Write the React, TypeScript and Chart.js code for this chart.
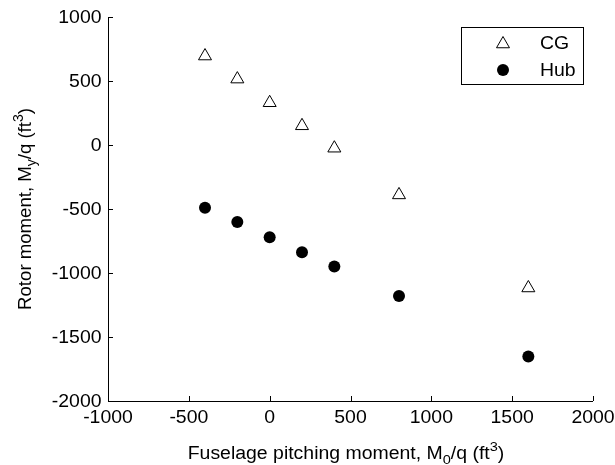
import React, { useEffect, useRef } from "react";
import { Chart, registerables } from "chart.js";

Chart.register(...registerables);

const xValues = [-400, -200, 0, 200, 400, 800, 1600];
const cgValues = [695, 515, 330, 150, -25, -390, -1117];
const hubValues = [-490, -602, -720, -838, -950, -1180, -1652];
const seriesNames = ["CG", "Hub"];
const xTicks = [-1000, -500, 0, 500, 1000, 1500, 2000];
const yTicks = [1000, 500, 0, -500, -1000, -1500, -2000];

const FONT = "'Liberation Sans', Arial, sans-serif";
const SX = 1.08;
const FS = 18;

function stretchedText(ctx: any, text: string, x: number, y: number, align: string, size = FS) {
  ctx.save();
  ctx.font = `${size}px ${FONT}`;
  ctx.textAlign = align;
  ctx.textBaseline = "middle";
  ctx.translate(x, y);
  ctx.scale(SX, 1);
  ctx.fillText(text, 0, 0);
  ctx.restore();
}

const innerTicks = {
  id: "innerTicks",
  afterDraw(chart: any) {
    const ctx = chart.ctx;
    const { left, right, top, bottom } = chart.chartArea;
    const xs = chart.scales.x;
    const ys = chart.scales.y;
    ctx.save();
    ctx.strokeStyle = "#000";
    ctx.lineWidth = 1;
    ctx.beginPath();
    ctx.moveTo(left + 0.5, top);
    ctx.lineTo(left + 0.5, bottom + 0.5);
    ctx.lineTo(right, bottom + 0.5);
    for (const v of xTicks) {
      const px = Math.round(xs.getPixelForValue(v)) + 0.5;
      ctx.moveTo(px, bottom);
      ctx.lineTo(px, bottom - 5);
    }
    for (const v of yTicks) {
      const py = Math.round(ys.getPixelForValue(v)) + 0.5;
      ctx.moveTo(left, py);
      ctx.lineTo(left + 5, py);
    }
    ctx.stroke();

    ctx.fillStyle = "#000";
    for (const v of xTicks) {
      stretchedText(ctx, String(v), xs.getPixelForValue(v), bottom + 17.5, "center");
    }
    for (const v of yTicks) {
      stretchedText(ctx, String(v), left - 6.5, ys.getPixelForValue(v) + 1, "right");
    }

    // legend box
    const bx = 461.5, by = 27.5, bw = 122, bh = 57;
    ctx.fillStyle = "#fff";
    ctx.fillRect(bx, by, bw, bh);
    ctx.strokeRect(bx, by, bw, bh);
    const mx = 503;
    const rows = [43, 70];
    const r = 7.5;
    ctx.beginPath();
    let rad = 0;
    const ty = rows[0] + 1;
    ctx.moveTo(mx + Math.sin(rad) * r, ty - Math.cos(rad) * r);
    rad += (2 * Math.PI) / 3;
    ctx.lineTo(mx + Math.sin(rad) * r, ty - Math.cos(rad) * r);
    rad += (2 * Math.PI) / 3;
    ctx.lineTo(mx + Math.sin(rad) * r, ty - Math.cos(rad) * r);
    ctx.closePath();
    ctx.fillStyle = "#fff";
    ctx.fill();
    ctx.stroke();
    ctx.beginPath();
    ctx.arc(mx, rows[1], 6, 0, Math.PI * 2);
    ctx.fillStyle = "#000";
    ctx.fill();
    stretchedText(ctx, seriesNames[0], 540, rows[0] + 1, "left");
    stretchedText(ctx, seriesNames[1], 540, rows[1] + 1, "left");
    ctx.restore();
  },
};

const titles = {
  id: "titles",
  afterDraw(chart: any) {
    const ctx = chart.ctx;
    ctx.save();
    ctx.fillStyle = "#000";
    ctx.textBaseline = "alphabetic";
    ctx.textAlign = "left";
    const measure = (arr: any[]) =>
      arr.reduce((w, p) => {
        ctx.font = `${p.s}px ${FONT}`;
        return w + ctx.measureText(p.t).width;
      }, 0);
    // x title
    const parts = [
      { t: "Fuselage pitching moment, M", dy: 0, s: 18 },
      { t: "0", dy: 5, s: 13.5 },
      { t: "/q (ft", dy: 0, s: 18 },
      { t: "3", dy: -8, s: 13.5 },
      { t: ")", dy: 0, s: 18 },
    ];
    let w = measure(parts);
    ctx.save();
    ctx.translate(346, 459);
    ctx.scale(SX, 1);
    let x = -w / 2;
    for (const p of parts) {
      ctx.font = `${p.s}px ${FONT}`;
      ctx.fillText(p.t, x, p.dy);
      x += ctx.measureText(p.t).width;
    }
    ctx.restore();
    // y title
    const yparts = [
      { t: "Rotor moment, M", dy: 0, s: 18.6 },
      { t: "y", dy: 5, s: 14 },
      { t: "/q (ft", dy: 0, s: 18.6 },
      { t: "3", dy: -8, s: 14 },
      { t: ")", dy: 0, s: 18.6 },
    ];
    w = measure(yparts);
    ctx.translate(31, 209);
    ctx.rotate(-Math.PI / 2);
    x = -w / 2;
    for (const p of yparts) {
      ctx.font = `${p.s}px ${FONT}`;
      ctx.fillText(p.t, x, p.dy);
      x += ctx.measureText(p.t).width;
    }
    ctx.restore();
  },
};

export default function App() {
  const ref = useRef<HTMLCanvasElement>(null);
  useEffect(() => {
    if (!ref.current) return;
    const chart = new Chart(ref.current, {
      type: "scatter",
      data: {
        datasets: [
          {
            label: seriesNames[0],
            data: xValues.map((x, i) => ({ x, y: cgValues[i] })),
            pointStyle: "triangle",
            pointRadius: 7.5,
            pointBackgroundColor: "#fff",
            pointBorderColor: "#000",
            pointBorderWidth: 1,
          },
          {
            label: seriesNames[1],
            data: xValues.map((x, i) => ({ x, y: hubValues[i] })),
            pointStyle: "circle",
            pointRadius: 6,
            pointBackgroundColor: "#000",
            pointBorderColor: "#000",
            pointBorderWidth: 0,
          },
        ],
      },
      options: {
        animation: false,
        responsive: false,
        devicePixelRatio: 1,
        layout: { padding: { top: 17, right: 22, left: 0, bottom: 0 } },
        plugins: { legend: { display: false }, tooltip: { enabled: false } },
        scales: {
          x: {
            type: "linear",
            min: -1000,
            max: 2000,
            afterFit(scale: any) {
              scale.height = 64;
            },
            border: { display: false },
            grid: { display: false, drawTicks: false },
            ticks: { display: false },
          },
          y: {
            type: "linear",
            min: -2000,
            max: 1000,
            afterFit(scale: any) {
              scale.width = 108;
            },
            border: { display: false },
            grid: { display: false, drawTicks: false },
            ticks: { display: false },
          },
        },
      },
      plugins: [innerTicks, titles],
    });
    return () => chart.destroy();
  }, []);
  return (
    <div style={{ position: "fixed", left: 0, top: 0, width: 615, height: 465, background: "#fff" }}>
      <canvas ref={ref} width={615} height={465} />
    </div>
  );
}
